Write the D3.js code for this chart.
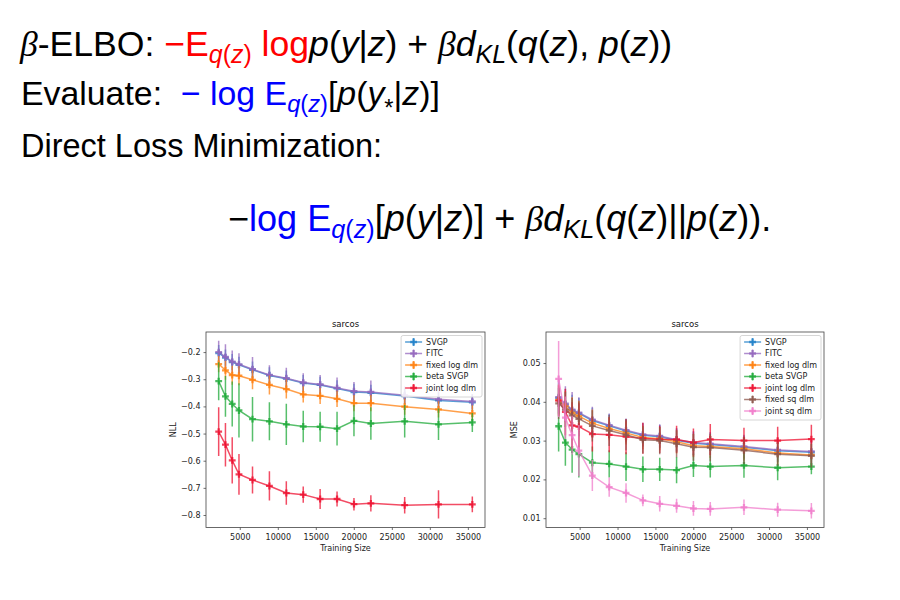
<!DOCTYPE html>
<html><head><meta charset="utf-8">
<script src="https://cdn.jsdelivr.net/npm/d3@7"></script>
<style>body{margin:0;background:#fff}</style>
</head><body>
<svg id="c" width="900" height="600" xmlns="http://www.w3.org/2000/svg"></svg>
<script>
// ---------------- data ----------------
const trainingSize = [2224, 3114, 4004, 4893, 6673, 8897, 11121, 13345, 15569, 17794, 20018, 22242, 26690, 31139, 35587];
const xTicks = [5000, 10000, 15000, 20000, 25000, 30000, 35000];
const nllTicks = [-0.8, -0.7, -0.6, -0.5, -0.4, -0.3, -0.2];
const mseTicks = [0.01, 0.02, 0.03, 0.04, 0.05];

const seriesNames = ["SVGP", "FITC", "fixed log dlm", "beta SVGP", "joint log dlm", "fixed sq dlm", "joint sq dlm"];
const seriesColors = ["#1f7fc8", "#9467bd", "#ff7f0e", "#1faa3a", "#ee1030", "#8c564b", "#f07ccb"];

const nllSVGP = [-0.204,-0.220,-0.237,-0.247,-0.265,-0.286,-0.298,-0.314,-0.321,-0.334,-0.347,-0.350,-0.362,-0.378,-0.385];
const nllSVGPErr = [0.03,0.03,0.03,0.03,0.03,0.03,0.03,0.03,0.03,0.03,0.03,0.03,0.03,0.03,0.03];
const nllFITC = [-0.200,-0.218,-0.235,-0.245,-0.263,-0.284,-0.296,-0.312,-0.319,-0.332,-0.344,-0.347,-0.359,-0.374,-0.382];
const nllFITCErr = [0.042,0.047,0.041,0.041,0.045,0.036,0.038,0.034,0.035,0.038,0.034,0.042,0.032,0.03,0.028];
const nllFixedLog = [-0.244,-0.267,-0.285,-0.287,-0.302,-0.321,-0.336,-0.356,-0.361,-0.372,-0.388,-0.388,-0.401,-0.411,-0.426];
const nllFixedLogErr = [0.03,0.035,0.035,0.035,0.035,0.035,0.035,0.03,0.03,0.03,0.03,0.03,0.03,0.03,0.03];
const nllBeta = [-0.307,-0.363,-0.391,-0.415,-0.447,-0.455,-0.466,-0.474,-0.475,-0.482,-0.453,-0.463,-0.455,-0.466,-0.459];
const nllBetaErr = [0.07,0.075,0.083,0.1,0.082,0.07,0.076,0.058,0.055,0.062,0.057,0.06,0.06,0.058,0.035];
const nllJointLog = [-0.493,-0.541,-0.599,-0.650,-0.671,-0.693,-0.719,-0.725,-0.741,-0.741,-0.760,-0.757,-0.764,-0.761,-0.761];
const nllJointLogErr = [0.09,0.08,0.085,0.075,0.05,0.054,0.043,0.03,0.037,0.028,0.023,0.03,0.03,0.052,0.029];

const mseSVGP = [0.0410,0.0393,0.0378,0.0370,0.0352,0.0338,0.0325,0.0314,0.0310,0.0301,0.0293,0.0290,0.0283,0.0274,0.0270];
const mseSVGPErr = [0.004,0.004,0.004,0.004,0.0033,0.003,0.003,0.003,0.003,0.003,0.003,0.003,0.003,0.003,0.003];
const mseFITC = [0.0412,0.0395,0.0380,0.0372,0.0354,0.0340,0.0327,0.0316,0.0312,0.0302,0.0295,0.0292,0.0285,0.0276,0.0272];
const mseFITCErr = [0.0045,0.0045,0.0045,0.004,0.0033,0.003,0.003,0.003,0.003,0.003,0.003,0.003,0.003,0.003,0.003];
const mseFixedLog = [0.0405,0.0388,0.0372,0.0363,0.0345,0.0331,0.0320,0.0308,0.0305,0.0297,0.0287,0.0285,0.0279,0.0268,0.0263];
const mseFixedLogErr = [0.004,0.004,0.004,0.004,0.0035,0.003,0.003,0.003,0.003,0.003,0.003,0.003,0.003,0.003,0.003];
const mseBeta = [0.0337,0.0295,0.0277,0.0265,0.0243,0.0240,0.0233,0.0226,0.0226,0.0224,0.0236,0.0233,0.0236,0.0230,0.0233];
const mseBetaErr = [0.0065,0.006,0.006,0.006,0.0042,0.0035,0.0037,0.0033,0.003,0.0034,0.003,0.0028,0.0032,0.0032,0.002];
const mseJointLog = [0.0403,0.0374,0.0339,0.0336,0.0317,0.0315,0.0310,0.0306,0.0303,0.0303,0.0295,0.0303,0.0300,0.0300,0.0304];
const mseJointLogErr = [0.004,0.006,0.006,0.006,0.0045,0.0045,0.0045,0.004,0.0035,0.0035,0.0036,0.004,0.0033,0.0036,0.0037];
const mseFixedSq = [0.0396,0.0380,0.0365,0.0356,0.0338,0.0326,0.0315,0.0302,0.0300,0.0292,0.0283,0.0282,0.0275,0.0265,0.0261];
const mseFixedSqErr = [0.004,0.0045,0.0045,0.0045,0.004,0.004,0.004,0.0035,0.0035,0.0035,0.0035,0.0035,0.0035,0.003,0.003];
const mseJointSq = [0.0459,0.0359,0.0314,0.0274,0.0210,0.0180,0.0165,0.0146,0.0137,0.0132,0.0125,0.0124,0.0128,0.0122,0.0119];
const mseJointSqErr = [0.0098,0.0055,0.005,0.0066,0.004,0.0025,0.0025,0.0015,0.002,0.0018,0.0019,0.0018,0.002,0.0018,0.002];

// ---------------- text ----------------
const RED = "#ff0000", BLUE = "#0000ff", K = "#000";
const line1 = [["β","b",K],["-ELBO: ","r",K],["−E","r",RED],["q","s",RED],["(","sr",RED],["z","s",RED],[")","sr",RED],[" log","r",RED],
  ["p","i",K],["(","r",K],["y","i",K],["|","r",K],["z","i",K],[") + ","r",K],["β","b",K],["d","i",K],["KL","s",K],
  ["(","r",K],["q","i",K],["(","r",K],["z","i",K],["), ","r",K],["p","i",K],["(","r",K],["z","i",K],["))","r",K]];
const line2 = [["Evaluate:  ","r",K],["− log ","r",BLUE],["E","r",BLUE],["q","s",BLUE],["(","sr",BLUE],["z","s",BLUE],[")","sr",BLUE],
  ["[","r",K],["p","i",K],["(","r",K],["y","i",K],["*","ss",K],["|","r",K],["z","i",K],[")]","r",K]];
const line3 = [["Direct Loss Minimization:","r",K]];
const line4 = [["−","r",K],["log ","r",BLUE],["E","r",BLUE],["q","s",BLUE],["(","sr",BLUE],["z","s",BLUE],[")","sr",BLUE],
  ["[","r",K],["p","i",K],["(","r",K],["y","i",K],["|","r",K],["z","i",K],[")] + ","r",K],["β","b",K],["d","i",K],["KL","s",K],
  ["(","r",K],["q","i",K],["(","r",K],["z","i",K],[")||","r",K],["p","i",K],["(","r",K],["z","i",K],[")).","r",K]];

const svg = d3.select("#c");
svg.append("rect").attr("width",900).attr("height",600).attr("fill","#fff");

function renderLine(segs, x, y, targetW) {
  const t = svg.append("text").attr("x", x).attr("y", y)
    .attr("font-family", "'Liberation Sans', Arial, sans-serif")
    .style("white-space","pre");
  function build(fs) {
    t.selectAll("*").remove();
    t.attr("font-size", fs);
    let shift = 0;
    segs.forEach(([txt, st, col]) => {
      const sub = st === "s" || st === "sr" || st === "ss";
      let want = sub ? fs * 0.2 : 0;
      if (st === "ss") want = fs * 0.32;
      const ts = t.append("tspan").text(txt).attr("fill", col).attr("dy", want - shift);
      shift = want;
      if (sub) ts.attr("font-size", fs * 0.7);
      if (st === "i" || st === "s") ts.attr("font-style", "italic");
      if (st === "b") ts.attr("font-family", "'Liberation Serif', serif").attr("font-style", "italic");
    });
  }
  let fs = 32;
  build(fs);
  for (let k = 0; k < 2; k++) {
    const w = t.node().getBBox().width;
    fs = fs * targetW / w;
    build(fs);
  }
}
renderLine(line1, 20, 56, 653);
renderLine(line2, 21, 105, 419);
renderLine(line3, 21, 157, 361);
renderLine(line4, 228, 231, 543);

// ---------------- charts ----------------
function drawChart(cfg) {
  const g = svg.append("g");
  const span = d3.max(trainingSize) - d3.min(trainingSize);
  const x = d3.scaleLinear()
    .domain([d3.min(trainingSize) - span * 0.05, d3.max(trainingSize) + span * 0.05])
    .range([cfg.left, cfg.right]);
  const y = d3.scaleLinear().domain(cfg.yDomain).range([cfg.bottom, cfg.top]);
  const font = "'DejaVu Sans', sans-serif";

  const xa = g.append("g").attr("transform", `translate(0,${cfg.bottom})`)
    .call(d3.axisBottom(x).tickValues(xTicks).tickFormat(d3.format("d")).tickSize(2.5).tickSizeOuter(0));
  const ya = g.append("g").attr("transform", `translate(${cfg.left},0)`)
    .call(d3.axisLeft(y).tickValues(cfg.yTicks).tickFormat(d3.format(cfg.fmt)).tickSize(2.5).tickSizeOuter(0));
  [xa, ya].forEach(a => {
    a.select(".domain").remove();
    a.selectAll("line").attr("stroke", "#333").attr("stroke-width", 0.7);
    a.selectAll("text").attr("font-family", font).attr("font-size", 8).attr("fill", "#222");
  });
  xa.selectAll("text").attr("dy", "0.9em");

  const cid = "clip" + cfg.id;
  svg.append("clipPath").attr("id", cid).append("rect")
    .attr("x", cfg.left).attr("y", cfg.top).attr("width", cfg.right - cfg.left).attr("height", cfg.bottom - cfg.top);
  const pg = g.append("g").attr("clip-path", `url(#${cid})`);

  const line = d3.line().x((d, i) => x(trainingSize[i])).y(d => y(d));
  const sym = d3.symbol().type(d3.symbolCross).size(26);
  cfg.series.forEach((s) => {
    const col = seriesColors[s.c];
    const sg = pg.append("g");
    sg.append("path").attr("d", line(s.m)).attr("fill", "none").attr("stroke", col)
      .attr("stroke-width", 1.5).attr("stroke-opacity", 0.75);
    s.m.forEach((v, i) => {
      sg.append("line").attr("x1", x(trainingSize[i])).attr("x2", x(trainingSize[i]))
        .attr("y1", y(v - s.e[i])).attr("y2", y(v + s.e[i]))
        .attr("stroke", col).attr("stroke-width", 1.5).attr("stroke-opacity", 0.75);
    });
    s.m.forEach((v, i) => {
      sg.append("path").attr("d", sym).attr("transform", `translate(${x(trainingSize[i])},${y(v)})`)
        .attr("fill", col).attr("fill-opacity", 0.8);
    });
  });

  g.append("rect").attr("x", cfg.left).attr("y", cfg.top).attr("width", cfg.right - cfg.left)
    .attr("height", cfg.bottom - cfg.top).attr("fill", "none").attr("stroke", "#444").attr("stroke-width", 0.8);

  g.append("text").attr("x", (cfg.left + cfg.right) / 2).attr("y", cfg.top - 5).attr("text-anchor", "middle")
    .attr("font-family", font).attr("font-size", 8.5).attr("fill", "#111").text("sarcos");
  g.append("text").attr("x", (cfg.left + cfg.right) / 2).attr("y", cfg.bottom + 23).attr("text-anchor", "middle")
    .attr("font-family", font).attr("font-size", 8).attr("fill", "#222").text("Training Size");
  g.append("text").attr("transform", `translate(${cfg.ylabX},${(cfg.top + cfg.bottom) / 2}) rotate(-90)`)
    .attr("text-anchor", "middle").attr("font-family", font).attr("font-size", 8).attr("fill", "#222").text(cfg.ylabel);

  const lg = g.append("g");
  const box = lg.append("rect").attr("fill", "#fff").attr("fill-opacity", 0.85)
    .attr("stroke", "#ccc").attr("stroke-width", 0.8).attr("rx", 2);
  let maxW = 0;
  const rows = cfg.series.map((s) => {
    const t = lg.append("text").attr("font-family", font).attr("font-size", 8).attr("fill", "#222")
      .attr("dy", "0.35em").text(seriesNames[s.c]);
    maxW = Math.max(maxW, t.node().getComputedTextLength());
    return t;
  });
  const bw = maxW + 29, rowH = 11.5;
  const bx = cfg.right - 3 - bw, by = cfg.top + 3.5;
  box.attr("x", bx).attr("y", by).attr("width", bw).attr("height", rowH * cfg.series.length + 4);
  cfg.series.forEach((s, k) => {
    const col = seriesColors[s.c];
    const cy = by + 6.5 + k * rowH;
    rows[k].attr("x", bx + 25).attr("y", cy);
    lg.append("line").attr("x1", bx + 4).attr("x2", bx + 21).attr("y1", cy).attr("y2", cy)
      .attr("stroke", col).attr("stroke-width", 1.5).attr("stroke-opacity", 0.75);
    lg.append("line").attr("x1", bx + 12.5).attr("x2", bx + 12.5).attr("y1", cy - 4).attr("y2", cy + 4)
      .attr("stroke", col).attr("stroke-width", 1.5).attr("stroke-opacity", 0.75);
    lg.append("path").attr("d", sym).attr("transform", `translate(${bx + 12.5},${cy})`)
      .attr("fill", col).attr("fill-opacity", 0.8);
  });
}

drawChart({
  id: "nll", left: 206, right: 485, top: 332, bottom: 527.5,
  yDomain: [-0.846, -0.126], yTicks: nllTicks, fmt: ".1f", ylabel: "NLL", ylabX: 176,
  series: [
    {c: 0, m: nllSVGP, e: nllSVGPErr},
    {c: 1, m: nllFITC, e: nllFITCErr},
    {c: 2, m: nllFixedLog, e: nllFixedLogErr},
    {c: 3, m: nllBeta, e: nllBetaErr},
    {c: 4, m: nllJointLog, e: nllJointLogErr}
  ]
});
drawChart({
  id: "mse", left: 546, right: 824, top: 332, bottom: 527.5,
  yDomain: [0.0076, 0.058], yTicks: mseTicks, fmt: ".2f", ylabel: "MSE", ylabX: 517,
  series: [
    {c: 0, m: mseSVGP, e: mseSVGPErr},
    {c: 1, m: mseFITC, e: mseFITCErr},
    {c: 2, m: mseFixedLog, e: mseFixedLogErr},
    {c: 3, m: mseBeta, e: mseBetaErr},
    {c: 4, m: mseJointLog, e: mseJointLogErr},
    {c: 5, m: mseFixedSq, e: mseFixedSqErr},
    {c: 6, m: mseJointSq, e: mseJointSqErr}
  ]
});
</script>
</body></html>
